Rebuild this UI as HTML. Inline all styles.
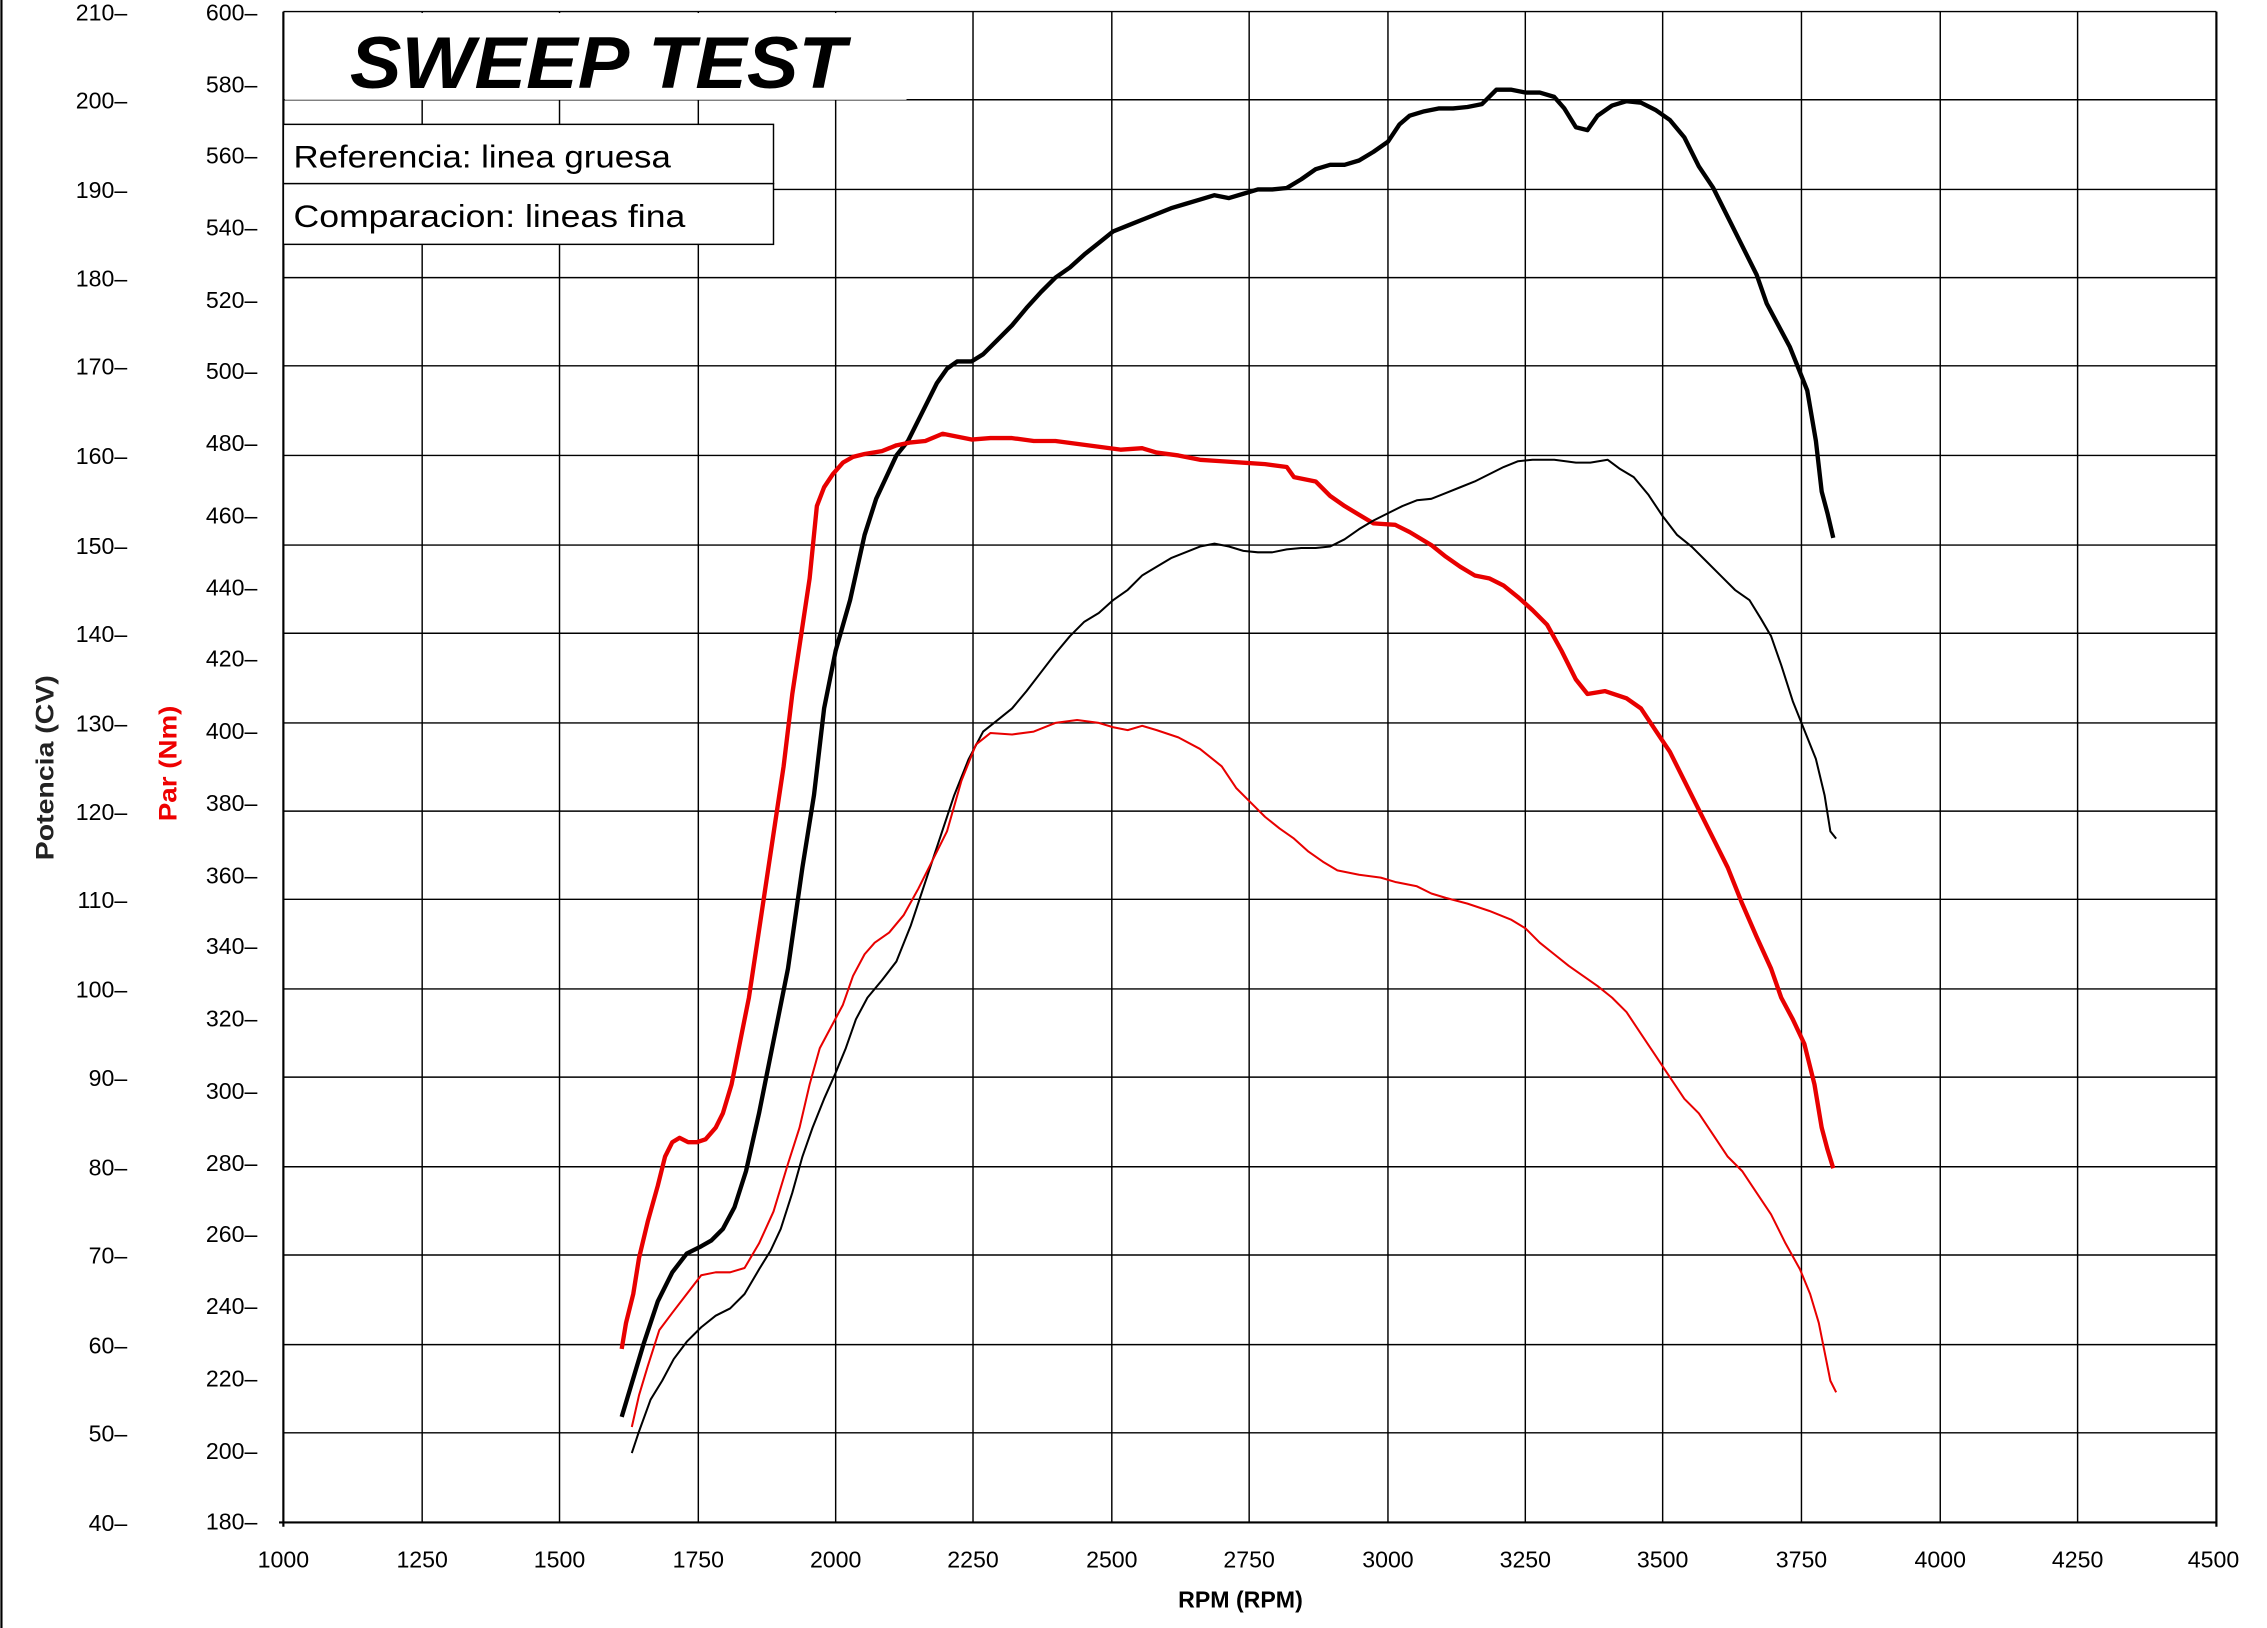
<!DOCTYPE html>
<html><head><meta charset="utf-8"><style>
html,body{margin:0;padding:0;background:#fff;}
svg{display:block;}
text{font-family:"Liberation Sans",sans-serif;}
</style></head><body>
<svg width="2267" height="1628" viewBox="0 0 1568 1126" xmlns="http://www.w3.org/2000/svg">
<rect width="1568" height="1126" fill="#fff"/>
<line x1="1" y1="0" x2="1" y2="1126" stroke="#000" stroke-width="1.5"/>
<g stroke="#000" stroke-width="1">
<line x1="292" y1="8" x2="292" y2="1053"/><line x1="387" y1="8" x2="387" y2="1053"/>
<line x1="483" y1="8" x2="483" y2="1053"/><line x1="578" y1="8" x2="578" y2="1053"/>
<line x1="673" y1="8" x2="673" y2="1053"/><line x1="769" y1="8" x2="769" y2="1053"/>
<line x1="864" y1="8" x2="864" y2="1053"/><line x1="960" y1="8" x2="960" y2="1053"/>
<line x1="1055" y1="8" x2="1055" y2="1053"/><line x1="1150" y1="8" x2="1150" y2="1053"/>
<line x1="1246" y1="8" x2="1246" y2="1053"/><line x1="1342" y1="8" x2="1342" y2="1053"/>
<line x1="1437" y1="8" x2="1437" y2="1053"/>
<line x1="196" y1="131" x2="1533" y2="131"/><line x1="196" y1="192" x2="1533" y2="192"/>
<line x1="196" y1="253" x2="1533" y2="253"/><line x1="196" y1="315" x2="1533" y2="315"/>
<line x1="196" y1="377" x2="1533" y2="377"/><line x1="196" y1="438" x2="1533" y2="438"/>
<line x1="196" y1="500" x2="1533" y2="500"/><line x1="196" y1="561" x2="1533" y2="561"/>
<line x1="196" y1="622" x2="1533" y2="622"/><line x1="196" y1="684" x2="1533" y2="684"/>
<line x1="196" y1="745" x2="1533" y2="745"/><line x1="196" y1="807" x2="1533" y2="807"/>
<line x1="196" y1="868" x2="1533" y2="868"/><line x1="196" y1="930" x2="1533" y2="930"/>
<line x1="196" y1="991" x2="1533" y2="991"/>
<line x1="196" y1="8" x2="1533" y2="8"/><line x1="196" y1="69" x2="1533" y2="69"/>
</g>
<rect x="197" y="9" width="430" height="60" fill="#fff"/>
<line x1="196" y1="8" x2="196" y2="1056" stroke="#000" stroke-width="1.5"/>
<line x1="1533" y1="8" x2="1533" y2="1056" stroke="#000" stroke-width="1.5"/>
<line x1="193" y1="1053" x2="1533" y2="1053" stroke="#000" stroke-width="1.5"/>
<text x="242" y="61" font-size="51" font-weight="bold" font-style="italic" textLength="343" lengthAdjust="spacingAndGlyphs">SWEEP TEST</text>
<rect x="196" y="86" width="339" height="41" fill="#fff" stroke="#000"/>
<rect x="196" y="127" width="339" height="42" fill="#fff" stroke="#000"/>
<text x="203" y="116" font-size="22" textLength="261" lengthAdjust="spacingAndGlyphs">Referencia: linea gruesa</text>
<text x="203" y="157" font-size="22" textLength="271" lengthAdjust="spacingAndGlyphs">Comparacion: lineas fina</text>
<g font-size="16" text-anchor="end">
<text x="88" y="14">210–</text><text x="88" y="75">200–</text><text x="88" y="137">190–</text><text x="88" y="198">180–</text><text x="88" y="259">170–</text><text x="88" y="321">160–</text><text x="88" y="383">150–</text><text x="88" y="444">140–</text><text x="88" y="506">130–</text><text x="88" y="567">120–</text><text x="88" y="628">110–</text><text x="88" y="690">100–</text><text x="88" y="751">90–</text><text x="88" y="813">80–</text><text x="88" y="874">70–</text><text x="88" y="936">60–</text><text x="88" y="997">50–</text><text x="88" y="1059">40–</text>
<text x="178" y="14">600–</text><text x="178" y="64">580–</text><text x="178" y="113">560–</text><text x="178" y="163">540–</text><text x="178" y="213">520–</text><text x="178" y="262">500–</text><text x="178" y="312">480–</text><text x="178" y="362">460–</text><text x="178" y="412">440–</text><text x="178" y="461">420–</text><text x="178" y="511">400–</text><text x="178" y="561">380–</text><text x="178" y="611">360–</text><text x="178" y="660">340–</text><text x="178" y="710">320–</text><text x="178" y="760">300–</text><text x="178" y="810">280–</text><text x="178" y="859">260–</text><text x="178" y="909">240–</text><text x="178" y="959">220–</text><text x="178" y="1009">200–</text><text x="178" y="1058">180–</text>
</g>
<g font-size="16" text-anchor="middle">
<text x="196" y="1084">1000</text><text x="292" y="1084">1250</text><text x="387" y="1084">1500</text><text x="483" y="1084">1750</text><text x="578" y="1084">2000</text><text x="673" y="1084">2250</text><text x="769" y="1084">2500</text><text x="864" y="1084">2750</text><text x="960" y="1084">3000</text><text x="1055" y="1084">3250</text><text x="1150" y="1084">3500</text><text x="1246" y="1084">3750</text><text x="1342" y="1084">4000</text><text x="1437" y="1084">4250</text><text x="1531" y="1084">4500</text>
</g>
<g text-anchor="middle" font-weight="bold">
<text x="858" y="1112" font-size="16">RPM (RPM)</text>
<text transform="translate(37,531) rotate(-90)" fill="#222" font-size="17" textLength="128" lengthAdjust="spacingAndGlyphs">Potencia (CV)</text>
<text transform="translate(122,528) rotate(-90)" fill="#e00" font-size="17" textLength="80" lengthAdjust="spacingAndGlyphs">Par (Nm)</text>
</g>
<g fill="none" stroke-linejoin="round">
<polyline stroke="#000" stroke-width="3" points="430,980 436,960 445,930 455,900 465,880 475,867 485,862 492,858 500,850 508,835 516,810 525,770 535,720 545,670 555,600 563,550 570,490 578,450 588,415 598,370 606,345 613,330 620,315 628,305 638,285 648,265 655,255 662,250 672,250 680,245 690,235 700,225 710,213 720,202 730,192 740,185 750,176 760,168 770,160 780,156 790,152 800,148 810,144 820,141 830,138 840,135 850,137 860,134 870,131 880,131 890,130 900,124 910,117 920,114 930,114 940,111 950,105 960,98 968,86 975,80 985,77 995,75 1005,75 1015,74 1025,72 1035,62 1045,62 1055,64 1065,64 1075,67 1082,75 1090,88 1098,90 1105,80 1115,73 1125,70 1135,71 1145,76 1155,83 1165,95 1175,115 1185,130 1195,150 1205,170 1215,190 1222,210 1230,225 1238,240 1244,255 1250,270 1256,305 1260,340 1264,355 1268,372"/>
<polyline stroke="#e80000" stroke-width="3" points="430,933 433,915 438,895 442,870 448,845 455,820 460,800 465,790 470,787 476,790 482,790 488,788 495,780 500,770 506,750 512,720 518,690 524,650 530,610 536,570 542,530 548,480 554,440 560,400 565,350 570,337 576,328 583,320 590,316 598,314 610,312 620,308 630,306 640,305 652,300 662,302 672,304 685,303 700,303 715,305 730,305 745,307 760,309 775,311 790,310 800,313 815,315 830,318 845,319 860,320 875,321 890,323 895,330 910,333 920,343 930,350 940,356 950,362 965,363 975,368 990,377 1000,385 1010,392 1020,398 1030,400 1040,405 1050,413 1060,422 1070,432 1080,450 1090,470 1098,480 1110,478 1125,483 1135,490 1145,505 1155,520 1165,540 1175,560 1185,580 1195,600 1205,625 1215,648 1225,670 1232,690 1240,705 1248,722 1255,750 1260,780 1264,795 1268,808"/>
<polyline stroke="#000" stroke-width="1.4" points="437,1005 442,990 450,968 458,955 466,940 475,928 485,918 495,910 505,905 515,895 525,878 533,865 540,850 548,825 555,800 562,780 570,760 578,742 585,725 592,705 600,690 610,678 620,665 630,640 640,610 650,580 660,550 670,525 680,506 690,498 700,490 710,478 720,465 730,452 740,440 750,430 760,424 770,415 780,408 790,398 800,392 810,386 820,382 830,378 840,376 850,378 860,381 870,382 880,382 890,380 900,379 910,379 920,378 930,373 940,366 950,360 960,355 970,350 980,346 990,345 1000,341 1010,337 1020,333 1030,328 1040,323 1050,319 1060,318 1075,318 1090,320 1100,320 1112,318 1120,324 1130,330 1140,342 1150,357 1160,370 1170,378 1180,388 1190,398 1200,408 1210,415 1218,428 1225,440 1232,460 1240,485 1248,505 1256,525 1262,550 1266,575 1270,580"/>
<polyline stroke="#e80000" stroke-width="1.4" points="437,987 442,965 448,945 456,920 465,908 475,895 485,882 495,880 505,880 515,877 525,860 535,838 545,805 553,780 560,750 567,725 575,710 583,695 590,675 598,660 605,652 615,645 625,633 635,615 645,595 655,575 665,540 675,515 685,507 700,508 715,506 730,500 745,498 760,500 770,503 780,505 790,502 800,505 815,510 830,518 845,530 855,545 865,555 875,565 885,573 895,580 905,589 915,596 925,602 940,605 955,607 965,610 980,613 990,618 1000,621 1015,625 1030,630 1045,636 1055,642 1065,652 1075,660 1085,668 1095,675 1105,682 1115,690 1125,700 1135,715 1145,730 1155,745 1165,760 1175,770 1185,785 1195,800 1205,810 1215,825 1225,840 1235,860 1245,878 1252,895 1258,915 1262,935 1266,955 1270,963"/>
</g>
</svg>
</body></html>
